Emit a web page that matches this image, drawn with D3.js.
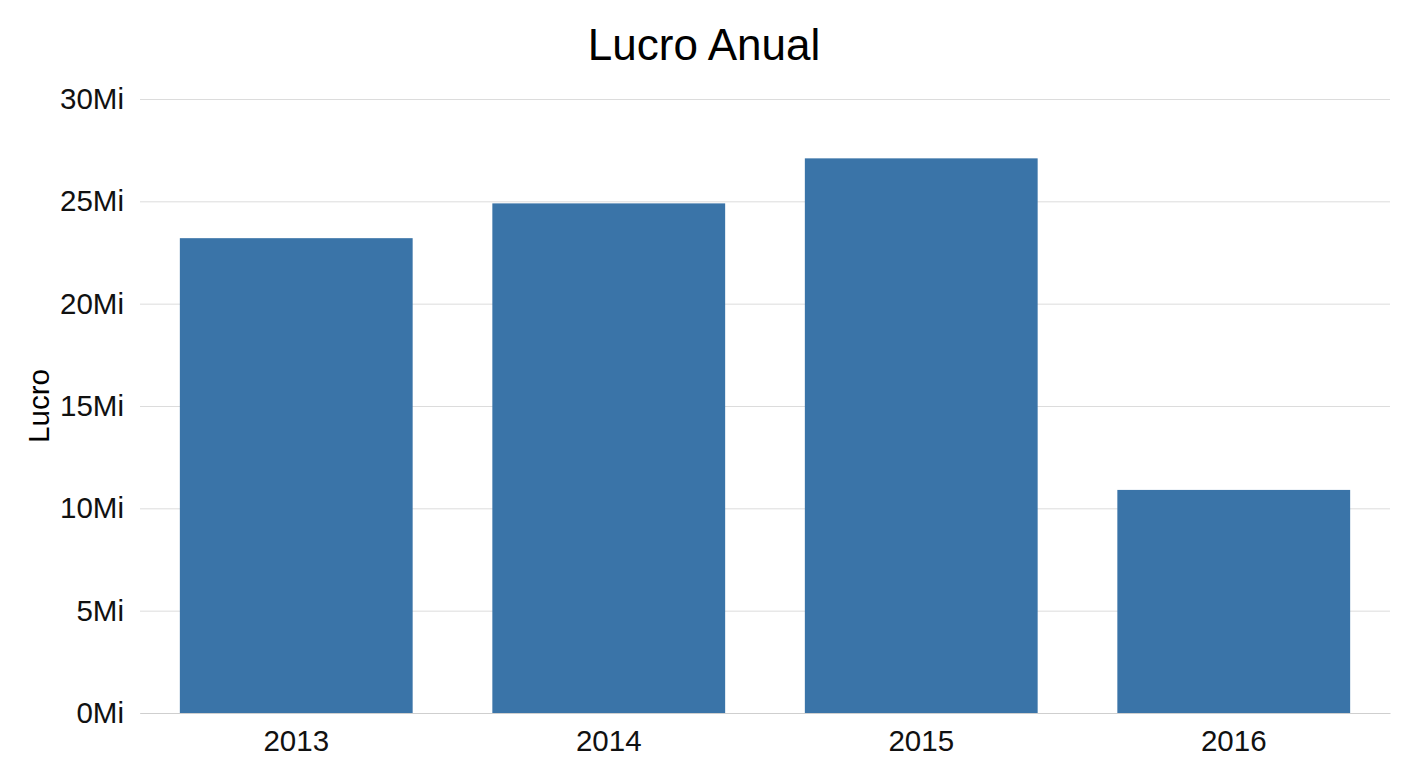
<!DOCTYPE html>
<html>
<head>
<meta charset="utf-8">
<script src="https://cdn.jsdelivr.net/npm/d3@7"></script>
<style>
  html, body { margin: 0; padding: 0; background: #fff; }
  svg { display: block; font-family: "Liberation Sans", Arial, Helvetica, sans-serif; }
</style>
</head>
<body>
<svg id="chart" width="1408" height="768"></svg>
<script>
const categories = ["2013", "2014", "2015", "2016"];
const values = [23.2e6, 24.9e6, 27.1e6, 10.9e6];
const yTicks = [0, 5e6, 10e6, 15e6, 20e6, 25e6, 30e6];
const title = "Lucro Anual";
const yLabel = "Lucro";

const W = 1408, H = 768;
const margin = { top: 99, right: 18, bottom: 55, left: 140 };
const svg = d3.select("#chart");
const iw = W - margin.left - margin.right;
const ih = H - margin.top - margin.bottom;

const x = d3.scaleBand().domain(categories).range([0, iw]).paddingInner(0.255).paddingOuter(0.1275);
const y = d3.scaleLinear().domain([0, 30e6]).range([ih, 0]);

const g = svg.append("g").attr("transform", `translate(${margin.left},${margin.top})`);

// grid + y axis
const yAxis = d3.axisLeft(y).tickValues(yTicks).tickSize(-iw).tickPadding(16)
  .tickFormat(d => (d / 1e6) + "Mi");
const yg = g.append("g").call(yAxis);
yg.select(".domain").remove();
yg.selectAll(".tick line").attr("stroke", "#dcdcdc").attr("stroke-width", 1);
yg.selectAll(".tick text").attr("font-size", 29.5).attr("fill", "#111")
  .attr("font-family", "'Liberation Sans', Arial, sans-serif");

// bars
g.selectAll("rect.bar").data(categories).join("rect")
  .attr("class", "bar")
  .attr("x", d => x(d))
  .attr("width", x.bandwidth())
  .attr("y", (d, i) => y(values[i]))
  .attr("height", (d, i) => ih - y(values[i]))
  .attr("fill", "#3a74a8");

// x axis
const xg = g.append("g").attr("transform", `translate(0,${ih})`)
  .call(d3.axisBottom(x).tickSize(0).tickPadding(17));
xg.select(".domain").attr("stroke", "#cfcfcf").attr("stroke-width", 1.2);
xg.selectAll(".tick text").attr("font-size", 29.5).attr("fill", "#111")
  .attr("font-family", "'Liberation Sans', Arial, sans-serif");

// title
svg.append("text").attr("x", W / 2).attr("y", 60).attr("text-anchor", "middle")
  .attr("font-size", 44).attr("fill", "#000").text(title);

// y label
svg.append("text").attr("transform", `translate(49,${margin.top + ih / 2}) rotate(-90)`)
  .attr("text-anchor", "middle").attr("font-size", 29.5).attr("fill", "#000").text(yLabel);
</script>
</body>
</html>
